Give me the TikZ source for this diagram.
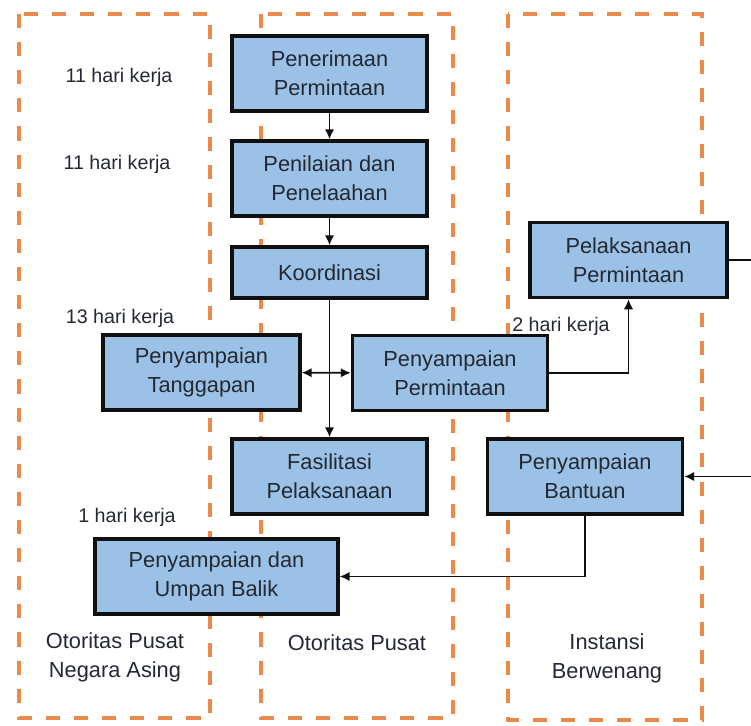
\documentclass[tikz,border=0pt]{standalone}
\usepackage{fontspec}
\setmainfont{Liberation Sans}
\usetikzlibrary{arrows.meta,positioning}
\definecolor{boxblue}{RGB}{155,194,230}
\definecolor{lineblack}{RGB}{15,15,15}
\definecolor{laneorange}{RGB}{233,137,74}
\definecolor{textdark}{RGB}{35,40,50}

\begin{document}
\begin{tikzpicture}[x=0.02cm, y=-0.02cm, >={Latex[length=2mm,width=1.9mm]},
  procbox/.style={draw=lineblack, fill=boxblue, line width=2pt, minimum width=3.9cm, minimum height=1.5cm, inner sep=0pt, align=center, text=textdark, font=\fontsize{12.4}{16.5}\selectfont},
  lane/.style={draw=laneorange, line width=2.2pt, dash pattern=on 8pt off 8pt},
  daylbl/.style={text=textdark, font=\fontsize{11.2}{13}\selectfont},
  lanelbl/.style={align=center, text=textdark, font=\fontsize{12.4}{16.5}\selectfont},
  flow/.style={->, line width=1pt, draw=lineblack}]
\useasboundingbox (0,0) rectangle (751,725);

\draw[lane] (19,14) rectangle (210,718);
\draw[lane] (261,14) rectangle (453,718);
\draw[lane] (508,14) rectangle (702,720);

\node[procbox] (terima) at (329.5,73.5) {Penerimaan\\Permintaan};
\node[procbox] (nilai) at (329.5,178.5) {Penilaian dan\\Penelaahan};
\node[procbox, minimum height=1.02cm] (koord) at (329.5,272.5) {Koordinasi};
\node[procbox, minimum width=3.94cm] (tanggap) at (201.5,372.5) {Penyampaian\\Tanggapan};
\node[procbox] (minta) at (450,373) {Penyampaian\\Permintaan};
\node[procbox, minimum width=3.94cm] (laksana) at (628.5,260) {Pelaksanaan\\Permintaan};
\node[procbox] (fasil) at (329.5,476.5) {Fasilitasi\\Pelaksanaan};
\node[procbox] (bantu) at (585,476.5) {Penyampaian\\Bantuan};
\node[procbox, minimum width=4.86cm] (umpan) at (216.5,576.5) {Penyampaian dan\\Umpan Balik};
\coordinate (tepi) at (770,260);

\draw[flow] (terima) -- (nilai);
\draw[flow] (nilai) -- (koord);
\draw[flow] (koord) -- (fasil);
\draw[flow, <->] (tanggap) -- (minta);
\draw[flow] (minta.east) -| (laksana.south);
\draw[flow] (laksana.east) -- (tepi) |- (bantu.east);
\draw[flow] (bantu.south) |- (umpan.east);

\node[daylbl] (hari1) at (119,77) {11 hari kerja};
\node[daylbl] (hari2) at (117,164) {11 hari kerja};
\node[daylbl] (hari3) at (120,318) {13 hari kerja};
\node[daylbl] (hari4) at (561,326) {2 hari kerja};
\node[daylbl] (hari5) at (127,517) {1 hari kerja};

\node[lanelbl] (asing) at (115,657) {Otoritas Pusat\\Negara Asing};
\node[lanelbl] (pusat) at (357,643) {Otoritas Pusat};
\node[lanelbl] (instansi) at (607,658) {Instansi\\Berwenang};
\end{tikzpicture}
\end{document}
